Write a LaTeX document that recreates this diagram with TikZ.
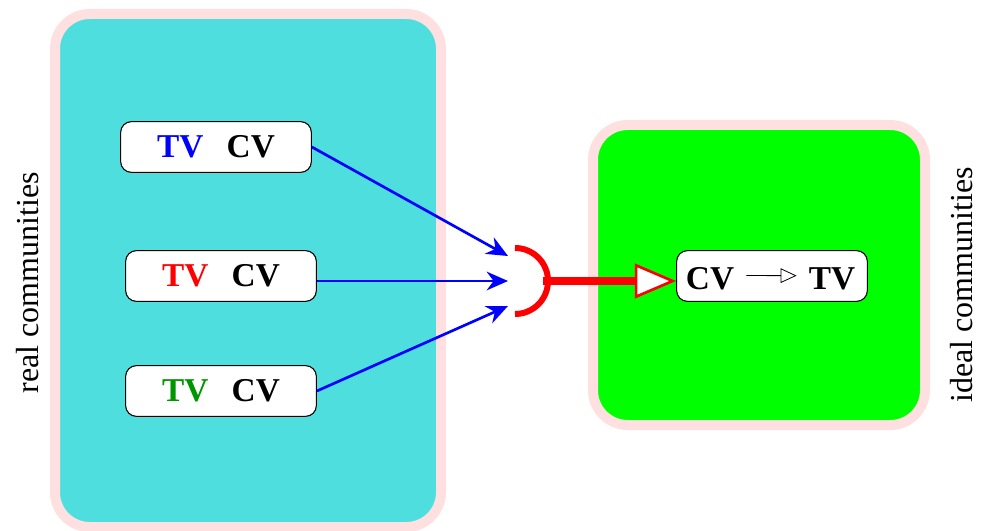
\documentclass[tikz,border=0pt]{standalone}
\usepackage{fontspec}
\setmainfont{Liberation Serif}
\usetikzlibrary{arrows.meta}
\definecolor{boxcyan}{RGB}{78,222,222}
\definecolor{boxpink}{RGB}{255,224,224}
\definecolor{tvgreen}{RGB}{0,150,0}
\begin{document}
\begin{tikzpicture}[x=0.75pt,y=-0.75pt,
  region/.style={draw=boxpink,line width=7.5pt,rounded corners=26pt},
  pair/.style={draw=black,fill=white,rounded corners=8pt,line width=0.8pt,
    minimum width=143pt,minimum height=38pt,inner sep=0pt,
    font=\fontsize{25}{29}\selectfont\bfseries},
  word/.style={inner sep=0pt,font=\fontsize{25}{29}\selectfont\bfseries},
  side/.style={rotate=90,font=\fontsize{24}{28}\selectfont},
  feed/.style={draw=blue,line width=2pt,-{Stealth[length=16pt,width=14pt]}},
  merge/.style={draw=red,line width=6pt,
    -{Triangle[open,fill=white,line width=2pt,length=31pt,width=26pt]}}]
\useasboundingbox (0,0) rectangle (985,531);
% regions
\draw[region,fill=boxcyan] (55,14) rectangle (441,527);
\draw[region,fill=green] (593,125) rectangle (925,425);
% side labels
\node[side] (lreal) at (28,283) {real communities};
\node[side] (lideal) at (962,285) {ideal communities};
% pair nodes
\node[pair] (n1) at (216,147) {\textcolor{blue}{TV}\hspace{0.7em}CV};
\node[pair] (n2) at (221,276) {\textcolor{red}{TV}\hspace{0.7em}CV};
\node[pair] (n3) at (221,391) {\textcolor{tvgreen}{TV}\hspace{0.7em}CV};
% goal node
\node[pair] (goal) at (772,276) {};
\node[word,anchor=base] (cv) at (710,289) {CV};
\node[word,anchor=base] (tv) at (832,289) {TV};
\draw[line width=0.6pt,-{Triangle[open,length=12pt,width=11pt,line width=0.6pt]}]
  ([xshift=9pt,yshift=2pt]cv.east) -- ([xshift=-9pt,yshift=2pt]tv.west);
% merge cup
\coordinate (cupT) at (515,248);
\coordinate (cupM) at (543,281);
\draw[red,line width=4.5pt] (cupT) arc[start angle=90,end angle=-90,radius=24.75pt];
% feeds
\draw[feed] (n1.east) -- (508,256);
\draw[feed] (n2.east |- cupM) -- (508,281);
\draw[feed] (n3.east) -- (508,306);
\draw[merge] (cupM) -- (cupM -| goal.west);
\end{tikzpicture}
\end{document}
